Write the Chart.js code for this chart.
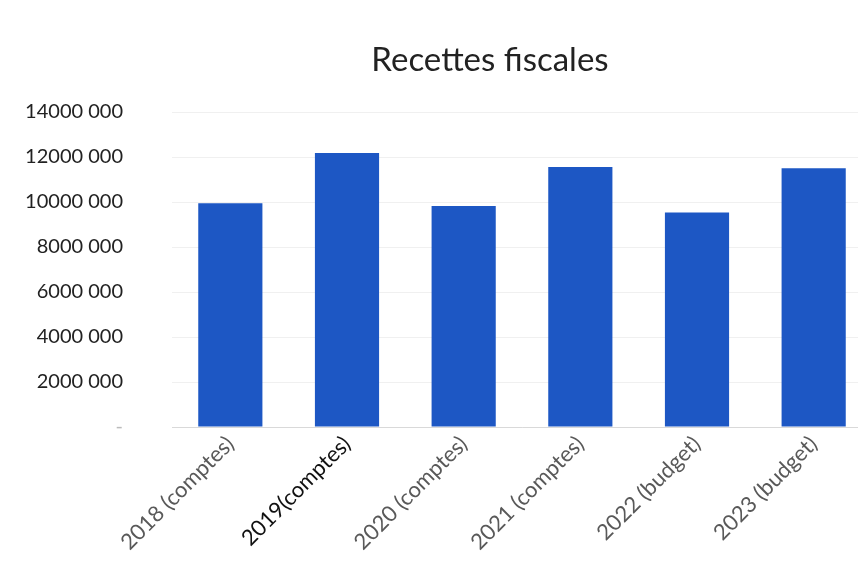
<!DOCTYPE html>
<html>
<head>
<meta charset="utf-8">
<script src="https://cdn.jsdelivr.net/npm/chart.js@4.4.1/dist/chart.umd.min.js"></script>
<style>
  html, body { margin: 0; padding: 0; background: #ffffff; overflow: hidden; }
  #wrap { position: relative; width: 880px; height: 584px; }
  #title { position: absolute; left: 0; top: 38px; width: 980px; text-align: center;
           font-family: Lato, "Open Sans", sans-serif; font-size: 33px; color: #222; }
</style>
</head>
<body>
<div id="wrap">
  <div id="title">Recettes fiscales</div>
  <canvas id="c"></canvas>
</div>
<script>
const categories = ["2018 (comptes)", "2019(comptes)", "2020 (comptes)", "2021 (comptes)", "2022 (budget)", "2023 (budget)"];
const recettes = [9940000, 12180000, 9820000, 11560000, 9530000, 11500000];
const labelColors = ["#595959", "#111111", "#595959", "#595959", "#595959", "#595959"];
const yMax = 14000000;
const yStep = 2000000;

function fmt(v) {
  if (v === 0) return "-";
  const th = Math.floor(v / 1000);
  const rest = String(v % 1000).padStart(3, "0");
  return th + " " + rest;
}

new Chart(document.getElementById("c"), {
  type: "bar",
  data: {
    labels: categories,
    datasets: [{
      data: recettes,
      backgroundColor: "#1d57c4",
      borderWidth: 0,
      barPercentage: 0.55,
      categoryPercentage: 1.0
    }]
  },
  options: {
    responsive: true,
    maintainAspectRatio: false,
    animation: false,
    layout: { padding: { left: 22, right: 8, top: 112, bottom: 0 } },
    plugins: { legend: { display: false }, title: { display: false }, tooltip: { enabled: false } },
    scales: {
      x: {
        grid: { display: false, drawTicks: false },
        border: { display: true, color: "#d9d9d9" },
        afterFit: (s) => { s.paddingLeft = 0; s.paddingRight = 0; s.height = 157; },
        ticks: {
          maxRotation: 45, minRotation: 45, autoSkip: false, padding: 4,
          color: (ctx) => labelColors[ctx.index],
          font: { family: "Lato, 'Open Sans', sans-serif", size: 22 }
        }
      },
      y: {
        min: 0, max: yMax,
        grid: { color: "#f0f0f0", drawTicks: false },
        border: { display: false },
        afterFit: (s) => { s.width = 150; },
        ticks: {
          stepSize: yStep, padding: 49,
          color: (ctx) => ctx.tick && ctx.tick.value === 0 ? "#bbbbbb" : "#222222",
          font: { family: "Lato, 'Open Sans', sans-serif", size: 20 },
          callback: (v) => fmt(v)
        }
      }
    }
  }
});
</script>
</body>
</html>
